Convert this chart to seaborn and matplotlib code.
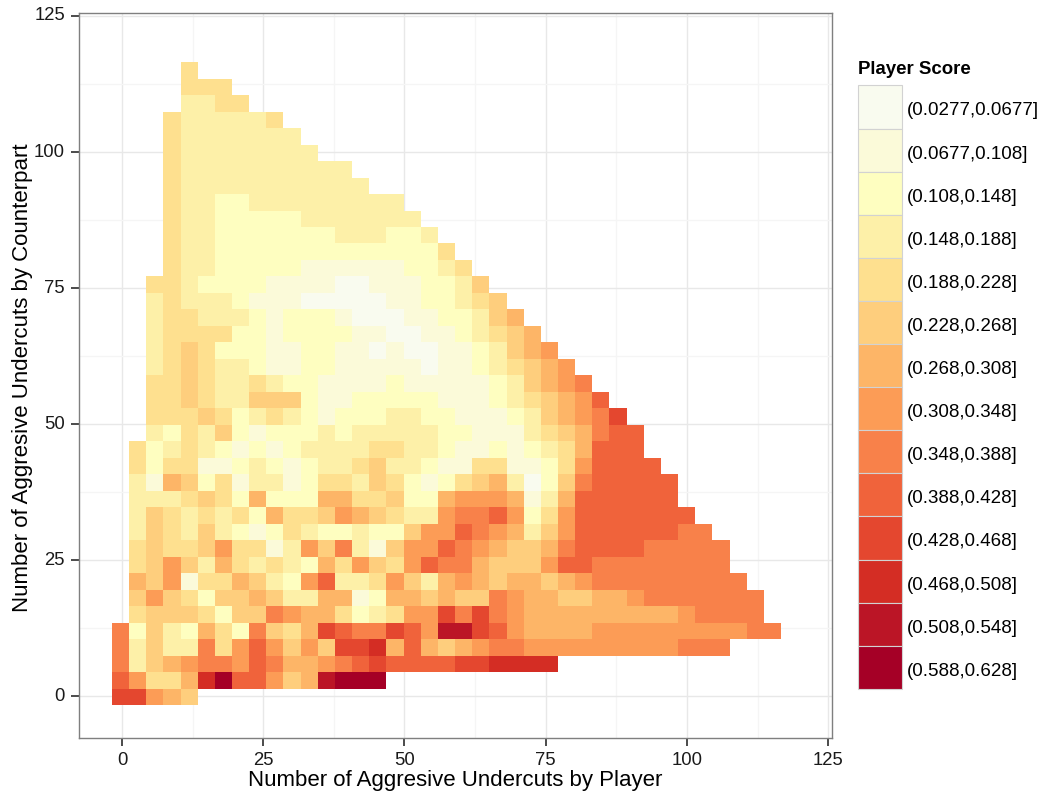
import numpy as np
import pandas as pd
import matplotlib
matplotlib.use("Agg")
import matplotlib.pyplot as plt
import seaborn as sns
from matplotlib.colors import ListedColormap
from matplotlib.patches import Patch

# score class of each cell, one string per row starting at the bottom
# 0-9, a-d index into score_labels, "." is an empty cell
score_rows = [
    "aa765",
    "97446bd99756cddd",
    "835678879866789a9999aabbbb",
    "8353384797575aab69656788777777777888",
    "825326428546a988a97cca97666677777777788",
    ".455542558766423477a8a876666666667" + "8888",
    ".575425565336612665655876655667" + "8888888",
    ".657144653279334753676566567888888888",
    ".45753643432647547988655579988888888",
    ".45445744137583157798765568" + "9999" + "88888",
    ".35435321243223225779876357" + "999999" + "88",
    ".35434342644576543378897247" + "9999999",
    ".33345426222664452267776136" + "999999",
    ".316524133124435421245630258" + "99999",
    ".424411232123345332114411247" + "9999",
    ".423432121233334433211212346" + "999",
    "..32435212223233333221113456899",
    "..444542343212223322111235678a",
    "..445433555211222221112345679",
    "..44543343221111211111235678",
    "..3454332112211111011234567",
    "..345422211221101001123567",
    "..34444221222211001123456",
    "..3443332122210001122356",
    "..343332111000001122345",
    "..44322221111001112235",
    "...433222221111112234",
    "...433" + "2222222222222" + "4",
    "...433" + "2222222" + "333" + "22" + "3",
    "...433" + "22222" + "3333333",
    "...433" + "22" + "333333333",
    "...4" + "33333333333",
    "...4" + "3333333333",
    "...4" + "33333333",
    "...4" + "3333333",
    "...4" + "33333" + "4",
    "....3344",
    "....444",
    "....4",
]

score_labels = [
    "(0.0277,0.0677]", "(0.0677,0.108]", "(0.108,0.148]", "(0.148,0.188]",
    "(0.188,0.228]", "(0.228,0.268]", "(0.268,0.308]", "(0.308,0.348]",
    "(0.348,0.388]", "(0.388,0.428]", "(0.428,0.468]", "(0.468,0.508]",
    "(0.508,0.548]", "(0.588,0.628]",
]
score_colors = [
    "#F9FBEF", "#FBFAD9", "#FEFEC0", "#FDF0A8", "#FEE08F", "#FECE7D", "#FDB567",
    "#FC9C56", "#F8814A", "#F0633B", "#E4472F", "#D42D24", "#BB1526", "#A50026",
]
tick_values = [0, 25, 50, 75, 100, 125]
minor_values = [12.5, 37.5, 62.5, 87.5, 112.5]

# bins along both axes
x_start, x_width = -1.77, 3.036
y_start, y_width = -1.65, 3.03
n_cells = 39

grid = np.full((n_cells, n_cells), np.nan)
for j, row in enumerate(score_rows):
    for i, ch in enumerate(row):
        if ch != ".":
            grid[j, i] = int(ch, 16)
df = pd.DataFrame(grid)

sns.set_theme(style="white")
plt.rcParams["font.family"] = ["Liberation Sans", "DejaVu Sans"]

fig = plt.figure(figsize=(10.44, 7.96), dpi=100)
ax = fig.add_axes([79 / 1044, 58 / 796, 753 / 1044, 725 / 796])

sns.heatmap(df, ax=ax, cmap=ListedColormap(score_colors), vmin=-0.5, vmax=13.5,
            cbar=False, linewidths=0, square=False)


def to_x(v):
    return (np.asarray(v) - x_start) / x_width


def to_y(v):
    return (np.asarray(v) - y_start) / y_width


ax.set_xlim(to_x(-7.6), to_x(125.66))
ax.set_ylim(to_y(-7.7), to_y(125.55))

ax.set_xticks(to_x(tick_values))
ax.set_xticklabels(tick_values, rotation=0)
ax.set_yticks(to_y(tick_values))
ax.set_yticklabels(tick_values, rotation=0)
ax.set_xticks(to_x(minor_values), minor=True)
ax.set_yticks(to_y(minor_values), minor=True)

ax.set_axisbelow(True)
ax.grid(True, which="major", color="#E8E8E8", linewidth=1.0)
ax.grid(True, which="minor", color="#F5F5F5", linewidth=1.0)
ax.tick_params(which="major", length=5.5, width=1.1, color="#1A1A1A",
               labelsize=13.3, labelcolor="#1A1A1A", pad=4.5, bottom=True, left=True)
ax.tick_params(which="minor", length=0)
for side in ax.spines.values():
    side.set_visible(True)
    side.set_color("#7F7F7F")
    side.set_linewidth(1.0)

ax.set_xlabel("Number of Aggresive Undercuts by Player", fontsize=16, color="black")
ax.set_ylabel("Number of Aggresive Undercuts by Counterpart", fontsize=16, color="black")
ax.xaxis.set_label_coords(0.5, -0.044)
ax.yaxis.set_label_coords(-0.061, 0.497)

# legend keys
handles = [Patch(facecolor=c, edgecolor="#D2D2D2", linewidth=0.8) for c in score_colors]
fs = 13.5
fs_px = fs * 100 / 72
key_h = (43.1 / fs_px - 0.245) / 0.65
leg = ax.legend(handles, score_labels, loc="upper left",
                bbox_to_anchor=(858 / 1044, (796 - 61.5) / 796), bbox_transform=fig.transFigure,
                frameon=False, fontsize=fs, title="Player Score",
                title_fontproperties={"weight": "bold", "size": 13.4},
                alignment="left", handlelength=44 / fs_px, handleheight=key_h,
                handletextpad=5 / fs_px, labelspacing=0, borderpad=0, borderaxespad=0)
leg._legend_box.sep = 5
leg.get_title().set_color("black")
for text in leg.get_texts():
    text.set_color("black")
    text.set_y(-3)

fig.savefig("out.png", dpi=100)
